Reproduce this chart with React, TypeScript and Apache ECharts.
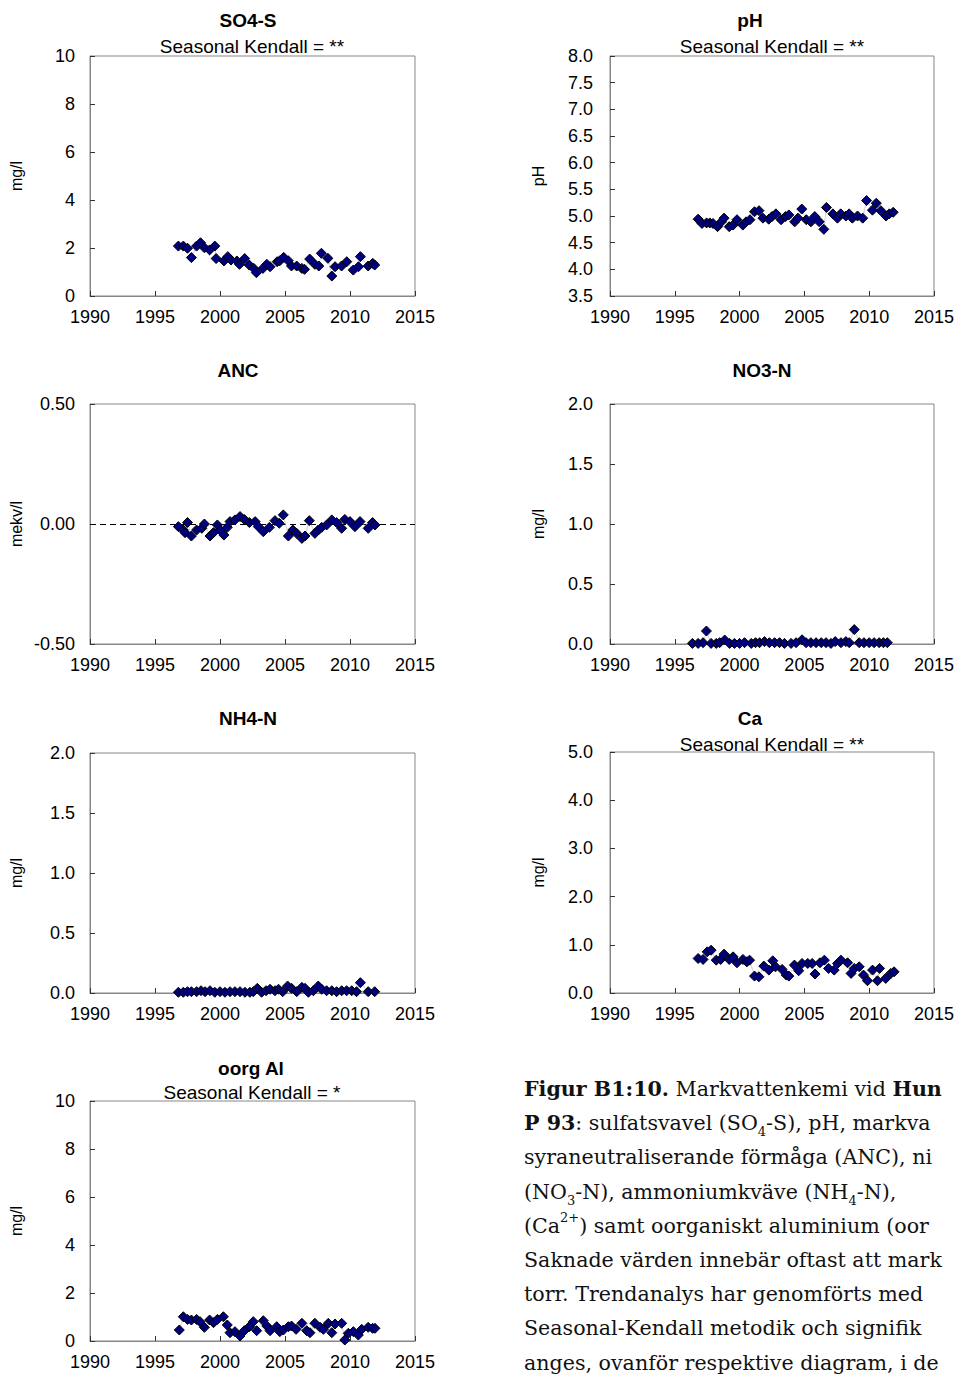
import React, { useEffect, useRef } from "react";
import * as echarts from "echarts";

// Soil water chemistry time series: [decimal year, value]
const so4Points: [number, number][] = [
  [1996.8, 2.08], [1997.18, 2.08], [1997.5, 1.99], [1997.8, 1.6], [1998.2, 2.08], [1998.5, 2.22],
  [1998.8, 2.01], [1999.2, 1.92], [1999.6, 2.08], [1999.7, 1.56], [2000.3, 1.46], [2000.6, 1.64],
  [2000.85, 1.5], [2001.3, 1.46], [2001.5, 1.32], [2001.9, 1.56], [2002.25, 1.29], [2002.6, 1.15],
  [2002.8, 0.97], [2003.3, 1.15], [2003.6, 1.32], [2003.85, 1.22], [2004.4, 1.43], [2004.6, 1.47],
  [2004.9, 1.61], [2005.25, 1.47], [2005.5, 1.25], [2005.9, 1.25], [2006.3, 1.15], [2006.5, 1.11],
  [2006.9, 1.54], [2007.3, 1.32], [2007.6, 1.25], [2007.8, 1.78], [2008.3, 1.57], [2008.6, 0.83],
  [2008.85, 1.22], [2009.35, 1.25], [2009.75, 1.43], [2010.25, 1.08], [2010.65, 1.22], [2010.8, 1.64],
  [2011.4, 1.25], [2011.75, 1.36], [2011.9, 1.29],
];

const phPoints: [number, number][] = [
  [1996.8, 4.94], [1997.1, 4.86], [1997.45, 4.87], [1997.7, 4.87], [1997.95, 4.86], [1998.3, 4.8],
  [1998.6, 4.89], [1998.8, 4.96], [1999.2, 4.8], [1999.5, 4.83], [1999.8, 4.93], [2000.25, 4.83],
  [2000.5, 4.89], [2000.8, 4.93], [2001.15, 5.08], [2001.5, 5.1], [2001.8, 4.96], [2002.25, 4.94],
  [2002.5, 4.99], [2002.8, 5.04], [2003.2, 4.93], [2003.55, 4.99], [2003.8, 5.02], [2004.25, 4.89],
  [2004.5, 4.96], [2004.8, 5.13], [2005.15, 4.93], [2005.5, 4.89], [2005.8, 4.99], [2006.15, 4.89],
  [2006.5, 4.75], [2006.7, 5.16], [2007.2, 5.04], [2007.55, 4.96], [2007.8, 5.04], [2008.2, 5.0],
  [2008.45, 5.04], [2008.7, 4.96], [2009.1, 5.0], [2009.5, 4.96], [2009.8, 5.29], [2010.25, 5.11],
  [2010.55, 5.24], [2010.9, 5.1], [2011.3, 5.0], [2011.55, 5.04], [2011.85, 5.07],
];

const ancPoints: [number, number][] = [
  [1996.8, -0.011], [1997.18, -0.025], [1997.31, -0.036], [1997.5, 0.006], [1997.8, -0.05],
  [1998.2, -0.025], [1998.6, -0.018], [1998.8, 0.0], [1999.23, -0.05], [1999.5, -0.036],
  [1999.8, -0.004], [2000.0, -0.025], [2000.3, -0.046], [2000.56, -0.014], [2000.77, 0.01],
  [2001.15, 0.017], [2001.54, 0.031], [2001.87, 0.019], [2002.26, 0.006], [2002.7, 0.01],
  [2002.95, -0.011], [2003.33, -0.032], [2003.8, -0.014], [2004.23, 0.014], [2004.56, 0.003],
  [2004.87, 0.038], [2005.26, -0.05], [2005.6, -0.025], [2005.9, -0.039], [2006.3, -0.06],
  [2006.54, -0.05], [2006.87, 0.014], [2007.3, -0.039], [2007.56, -0.025], [2007.82, -0.014],
  [2008.2, -0.004], [2008.6, 0.017], [2008.97, 0.006], [2009.36, -0.018], [2009.6, 0.019],
  [2010.0, 0.01], [2010.38, -0.011], [2010.77, 0.01], [2011.4, -0.018], [2011.74, 0.006],
  [2011.92, -0.004],
];

const no3Points: [number, number][] = [
  [1996.36, 0.005], [1996.8, 0.005], [1997.18, 0.011], [1997.44, 0.108], [1997.8, 0.005],
  [1998.2, 0.005], [1998.46, 0.011], [1998.85, 0.033], [1999.23, 0.005], [1999.6, 0.005],
  [2000.0, 0.005], [2000.38, 0.011], [2000.9, 0.005], [2001.23, 0.011], [2001.54, 0.011],
  [2001.92, 0.02], [2002.3, 0.011], [2002.7, 0.011], [2003.08, 0.011], [2003.46, 0.005],
  [2003.97, 0.005], [2004.36, 0.011], [2004.82, 0.035], [2005.13, 0.011], [2005.5, 0.011],
  [2005.9, 0.011], [2006.3, 0.011], [2006.67, 0.011], [2007.05, 0.005], [2007.38, 0.02],
  [2007.82, 0.011], [2008.2, 0.02], [2008.46, 0.011], [2008.85, 0.12], [2009.23, 0.011],
  [2009.6, 0.011], [2010.0, 0.011], [2010.38, 0.011], [2010.77, 0.011], [2011.1, 0.011],
  [2011.4, 0.011],
];

const nh4Points: [number, number][] = [
  [1996.8, 0.006], [1997.18, 0.006], [1997.5, 0.011], [1997.8, 0.011], [1998.2, 0.011],
  [1998.54, 0.019], [1998.85, 0.011], [1999.23, 0.019], [1999.6, 0.006], [2000.0, 0.011],
  [2000.38, 0.006], [2000.77, 0.011], [2001.15, 0.011], [2001.54, 0.011], [2001.92, 0.006],
  [2002.3, 0.006], [2002.56, 0.011], [2002.87, 0.039], [2003.2, 0.006], [2003.54, 0.019],
  [2003.85, 0.031], [2004.23, 0.019], [2004.5, 0.031], [2004.82, 0.011], [2005.2, 0.058],
  [2005.5, 0.039], [2005.9, 0.011], [2006.3, 0.047], [2006.54, 0.039], [2006.8, 0.006],
  [2007.18, 0.019], [2007.56, 0.058], [2007.82, 0.031], [2008.2, 0.019], [2008.6, 0.019],
  [2008.97, 0.011], [2009.36, 0.019], [2009.74, 0.019], [2010.13, 0.019], [2010.5, 0.011],
  [2010.8, 0.086], [2011.4, 0.011], [2011.9, 0.011],
];

const caPoints: [number, number][] = [
  [1996.8, 0.716], [1997.18, 0.696], [1997.5, 0.854], [1997.8, 0.888], [1998.2, 0.682],
  [1998.54, 0.696], [1998.8, 0.806], [1999.2, 0.696], [1999.5, 0.75], [1999.8, 0.627],
  [2000.26, 0.696], [2000.56, 0.647], [2000.77, 0.682], [2001.15, 0.351], [2001.49, 0.337],
  [2001.87, 0.558], [2002.26, 0.475], [2002.56, 0.668], [2002.77, 0.544], [2003.28, 0.49],
  [2003.6, 0.372], [2003.8, 0.351], [2004.23, 0.579], [2004.56, 0.461], [2004.82, 0.613],
  [2005.26, 0.613], [2005.6, 0.613], [2005.82, 0.393], [2006.2, 0.627], [2006.54, 0.682],
  [2006.87, 0.51], [2007.3, 0.475], [2007.56, 0.613], [2007.82, 0.682], [2008.33, 0.627],
  [2008.6, 0.407], [2008.85, 0.51], [2009.23, 0.544], [2009.56, 0.372], [2009.87, 0.254],
  [2010.26, 0.475], [2010.64, 0.254], [2010.8, 0.51], [2011.28, 0.303], [2011.67, 0.407],
  [2011.92, 0.44],
];

const alPoints: [number, number][] = [
  [1996.87, 0.458], [1997.18, 1.01], [1997.5, 0.9], [1997.8, 0.875], [1998.2, 0.9],
  [1998.46, 0.806], [1998.8, 0.57], [1999.2, 0.875], [1999.5, 0.764], [1999.8, 0.9],
  [2000.26, 1.01], [2000.56, 0.667], [2000.77, 0.347], [2001.15, 0.389], [2001.54, 0.208],
  [2001.87, 0.43], [2002.26, 0.597], [2002.56, 0.806], [2002.82, 0.43], [2003.33, 0.847],
  [2003.6, 0.625], [2003.85, 0.43], [2004.36, 0.597], [2004.6, 0.389], [2004.87, 0.458],
  [2005.26, 0.597], [2005.5, 0.625], [2005.85, 0.486], [2006.3, 0.736], [2006.67, 0.43],
  [2006.92, 0.347], [2007.3, 0.736], [2007.7, 0.57], [2007.95, 0.486], [2008.33, 0.736],
  [2008.6, 0.347], [2008.85, 0.708], [2009.36, 0.736], [2009.6, 0.042], [2009.87, 0.32],
  [2010.26, 0.389], [2010.64, 0.25], [2010.9, 0.486], [2011.4, 0.57], [2011.74, 0.528],
  [2011.92, 0.528],
];

const yearTicks = { min: 1990, max: 2015, interval: 5 };

const panelTitles = ["SO4-S", "pH", "ANC", "NO3-N", "NH4-N", "Ca", "oorg Al"];
const trendLabels = ["Seasonal Kendall = **", "Seasonal Kendall = **", "", "", "", "Seasonal Kendall = **", "Seasonal Kendall = *"];
const unitNames = ["mg/l", "pH", "mekv/l", "mg/l", "mg/l", "mg/l", "mg/l"];
const yRanges: [number, number, number, number][] = [
  // min, max, interval, decimals
  [0, 10, 2, 0],
  [3.5, 8, 0.5, 1],
  [-0.5, 0.5, 0.5, 2],
  [0, 2, 0.5, 1],
  [0, 2, 0.5, 1],
  [0, 5, 1, 1],
  [0, 10, 2, 0],
];
const seriesData = [so4Points, phPoints, ancPoints, no3Points, nh4Points, caPoints, alPoints];

const captionLines: string[] = [
  "{b|Figur B1:10.} Markvattenkemi vid {b|Hun}",
  "{b|P 93}: sulfatsvavel (SO{s|4}-S), pH, markva",
  "syraneutraliserande förmåga (ANC), ni",
  "(NO{s|3}-N), ammoniumkväve (NH{s|4}-N),",
  "(Ca{p|2+}) samt oorganiskt aluminium (oor",
  "Saknade värden innebär oftast att mark",
  "torr. Trendanalys har genomförts med",
  "Seasonal-Kendall metodik och signifik",
  "anges, ovanför respektive diagram, i de",
];

// Layout of each panel (pixel frames)
const frames = [
  { left: 90, top: 56, height: 240, titleX: 248, titleY: 20, trendX: 252, trendY: 46, nameGap: 66, labelGap: 15 },
  { left: 610, top: 56, height: 240, titleX: 750, titleY: 20, trendX: 772, trendY: 46, nameGap: 64, labelGap: 17 },
  { left: 90, top: 404, height: 240, titleX: 238, titleY: 370, trendX: 252, trendY: 394, nameGap: 66, labelGap: 15 },
  { left: 610, top: 404, height: 240, titleX: 762, titleY: 370, trendX: 772, trendY: 394, nameGap: 64, labelGap: 17 },
  { left: 90, top: 753, height: 240, titleX: 248, titleY: 718, trendX: 252, trendY: 742, nameGap: 66, labelGap: 15 },
  { left: 610, top: 752, height: 241, titleX: 750, titleY: 718, trendX: 772, trendY: 744, nameGap: 64, labelGap: 17 },
  { left: 90, top: 1101, height: 240, titleX: 251, titleY: 1068, trendX: 252, trendY: 1092, nameGap: 66, labelGap: 15 },
];
const PLOT_W = 325;
const AXIS_GREY = "#878787";
const SANS = "'Liberation Sans', Arial, sans-serif";
const SERIF = "'DejaVu Serif', 'Liberation Serif', serif";
const CAP_SIZE = 20.6;

export default function App() {
  const ref = useRef<HTMLDivElement>(null);

  useEffect(() => {
    if (!ref.current) return;
    const chart = echarts.init(ref.current, undefined, { renderer: "svg" });

    const grid = frames.map((f) => ({
      left: f.left,
      top: f.top,
      width: PLOT_W,
      height: f.height,
      show: true,
      borderColor: AXIS_GREY,
      borderWidth: 1,
      backgroundColor: "transparent",
      containLabel: false,
    }));

    const xAxis = frames.map((_, i) => ({
      type: "value",
      gridIndex: i,
      ...yearTicks,
      axisLine: { show: true, onZero: false, lineStyle: { color: AXIS_GREY, width: 1 } },
      axisTick: { show: true, inside: true, length: 5, lineStyle: { color: "#333" } },
      axisLabel: {
        color: "#000",
        fontSize: 18,
        fontFamily: SANS,
        margin: 12,
        formatter: (v: number) => String(v),
      },
      splitLine: { show: false },
    }));

    const yAxis = frames.map((f, i) => {
      const [min, max, interval, dec] = yRanges[i];
      return {
        type: "value",
        gridIndex: i,
        min,
        max,
        interval,
        name: unitNames[i],
        nameLocation: "middle",
        nameRotate: 90,
        nameGap: f.nameGap,
        nameTextStyle: { color: "#000", fontSize: 16, fontFamily: SANS },
        axisLine: { show: true, onZero: false, lineStyle: { color: AXIS_GREY, width: 1 } },
        axisTick: { show: true, inside: true, length: 5, lineStyle: { color: "#333" } },
        axisLabel: {
          color: "#000",
          fontSize: 18,
          fontFamily: SANS,
          margin: f.labelGap,
          formatter: (v: number) => v.toFixed(dec),
        },
        splitLine: { show: false },
      };
    });

    const series = seriesData.map((pts, i) => ({
      type: "line",
      xAxisIndex: i,
      yAxisIndex: i,
      data: pts,
      symbol: "diamond",
      symbolSize: 10,
      showSymbol: true,
      itemStyle: { color: "#00007f", borderColor: "#000", borderWidth: 1 },
      lineStyle: { color: "#b4b4b4", width: 0.6 },
      z: 3,
      markLine:
        i === 2
          ? {
              silent: true,
              symbol: ["none", "none"],
              label: { show: false },
              lineStyle: { color: "#000", type: [6, 4], width: 1 },
              data: [{ yAxis: 0 }],
              z: 1,
            }
          : undefined,
    }));

    const graphics: any[] = [];
    frames.forEach((f, i) => {
      graphics.push({
        type: "text",
        x: f.titleX,
        y: f.titleY,
        style: {
          text: panelTitles[i],
          fontFamily: SANS,
          fontSize: 19,
          fontWeight: "bold",
          fill: "#000",
          align: "center",
          verticalAlign: "middle",
        },
      });
      if (trendLabels[i]) {
        graphics.push({
          type: "text",
          x: f.trendX,
          y: f.trendY,
          style: {
            text: trendLabels[i],
            fontFamily: SANS,
            fontSize: 19,
            fill: "#000",
            align: "center",
            verticalAlign: "middle",
          },
        });
      }
    });

    const capBase = { fontFamily: SERIF, fontSize: CAP_SIZE, fill: "#111", lineHeight: 30 };
    captionLines.forEach((line, k) => {
      graphics.push({
        type: "text",
        x: 524,
        y: 1089 + k * 34.2,
        style: {
          text: line,
          ...capBase,
          align: "left",
          verticalAlign: "middle",
          rich: {
            b: { fontFamily: SERIF, fontSize: CAP_SIZE, fontWeight: "bold", lineHeight: 30 },
            s: { fontFamily: SERIF, fontSize: 13, lineHeight: 22, verticalAlign: "bottom" },
            p: { fontFamily: SERIF, fontSize: 13, lineHeight: 22, verticalAlign: "top" },
          },
        },
      });
    });

    chart.setOption({
      animation: false,
      backgroundColor: "#fff",
      grid,
      xAxis,
      yAxis,
      series,
      graphic: { elements: graphics },
    } as any);

    return () => chart.dispose();
  }, []);

  return (
    <div
      ref={ref}
      style={{ position: "absolute", left: 0, top: 0, width: 957, height: 1374, background: "#fff" }}
    />
  );
}
